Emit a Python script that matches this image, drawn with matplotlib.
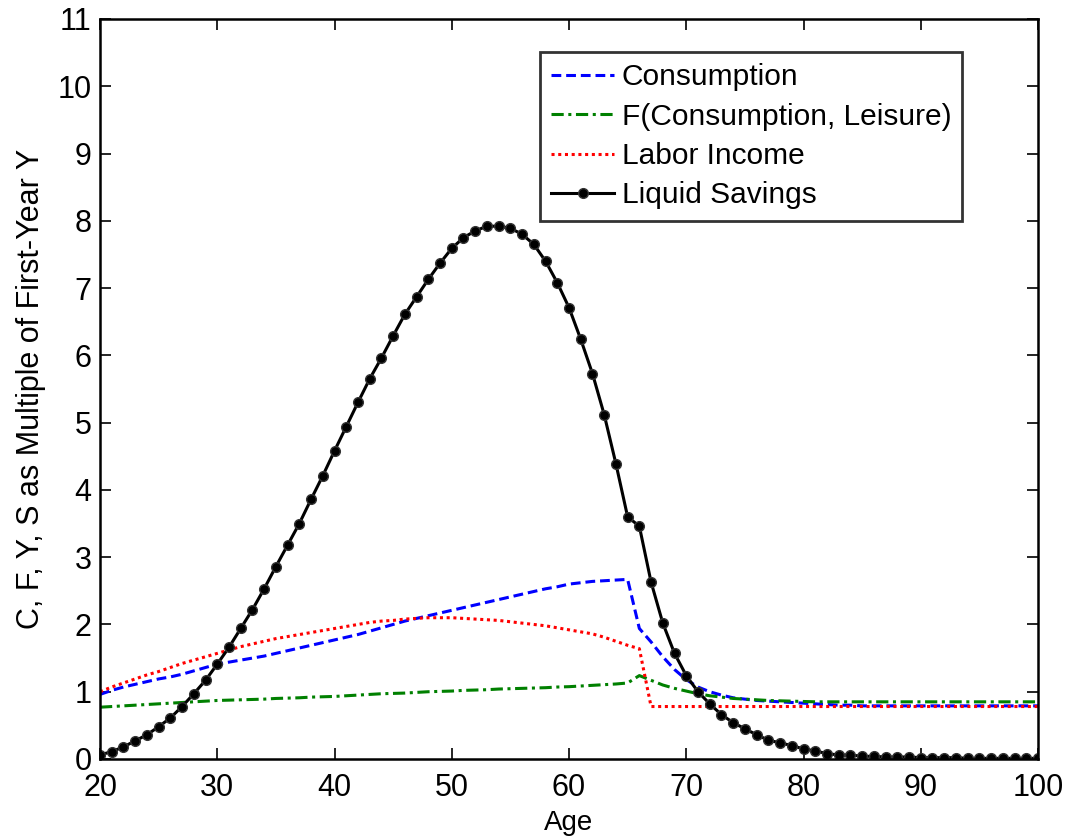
import matplotlib
matplotlib.use("Agg")
import matplotlib.pyplot as plt
import numpy as np

plt.rcParams['font.family'] = ['Liberation Sans', 'DejaVu Sans']

ages = list(range(20, 101))

consumption = [0.96, 1.02, 1.07, 1.11, 1.15, 1.19, 1.22, 1.26, 1.31, 1.36,
               1.41, 1.44, 1.47, 1.50, 1.53, 1.57, 1.61, 1.65, 1.69, 1.73,
               1.77, 1.81, 1.85, 1.90, 1.95, 2.00, 2.05, 2.09, 2.13, 2.17,
               2.21, 2.25, 2.29, 2.33, 2.37, 2.41, 2.45, 2.49, 2.53, 2.56,
               2.60, 2.62, 2.64, 2.65, 2.66, 2.67, 1.94, 1.74, 1.52, 1.33,
               1.18, 1.07, 1.00, 0.95, 0.91, 0.89, 0.87, 0.86, 0.85, 0.84,
               0.83, 0.82, 0.81, 0.80, 0.80, 0.79, 0.79, 0.79, 0.79, 0.79,
               0.79, 0.79, 0.79, 0.79, 0.79, 0.79, 0.79, 0.79, 0.79, 0.79,
               0.79]

f_cons_leisure = [0.77, 0.78, 0.79, 0.80, 0.81, 0.82, 0.83, 0.84, 0.85, 0.86,
                  0.87, 0.875, 0.88, 0.885, 0.89, 0.90, 0.905, 0.91, 0.92, 0.925,
                  0.93, 0.94, 0.95, 0.96, 0.97, 0.975, 0.98, 0.99, 1.00, 1.005,
                  1.01, 1.02, 1.025, 1.03, 1.04, 1.045, 1.05, 1.055, 1.06, 1.07,
                  1.075, 1.085, 1.095, 1.105, 1.115, 1.13, 1.24, 1.17, 1.10, 1.05,
                  1.01, 0.97, 0.94, 0.92, 0.90, 0.89, 0.88, 0.87, 0.865, 0.86,
                  0.855, 0.85, 0.85, 0.85, 0.85, 0.85, 0.85, 0.85, 0.85, 0.85,
                  0.85, 0.85, 0.85, 0.85, 0.85, 0.85, 0.85, 0.85, 0.85, 0.85,
                  0.85]

labor_income = [1.00, 1.07, 1.13, 1.19, 1.25, 1.30, 1.36, 1.42, 1.47, 1.52,
                1.57, 1.62, 1.67, 1.71, 1.75, 1.79, 1.82, 1.85, 1.88, 1.91,
                1.94, 1.97, 2.00, 2.03, 2.05, 2.06, 2.08, 2.09, 2.10, 2.10,
                2.10, 2.09, 2.08, 2.07, 2.06, 2.04, 2.02, 2.00, 1.98, 1.95,
                1.92, 1.89, 1.86, 1.81, 1.75, 1.69, 1.64, 0.78, 0.78, 0.78,
                0.78, 0.78, 0.78, 0.78, 0.78, 0.78, 0.78, 0.78, 0.78, 0.78,
                0.78, 0.78, 0.78, 0.78, 0.78, 0.78, 0.78, 0.78, 0.78, 0.78,
                0.78, 0.78, 0.78, 0.78, 0.78, 0.78, 0.78, 0.78, 0.78, 0.78,
                0.78]

liquid_savings = [0.06, 0.11, 0.18, 0.27, 0.36, 0.48, 0.61, 0.78, 0.97, 1.17,
                  1.41, 1.66, 1.94, 2.22, 2.53, 2.86, 3.18, 3.50, 3.86, 4.21,
                  4.58, 4.94, 5.30, 5.65, 5.96, 6.29, 6.61, 6.87, 7.13, 7.37,
                  7.59, 7.75, 7.85, 7.92, 7.92, 7.89, 7.80, 7.65, 7.40, 7.08,
                  6.71, 6.24, 5.73, 5.12, 4.39, 3.60, 3.46, 2.63, 2.02, 1.57,
                  1.24, 1.00, 0.82, 0.66, 0.54, 0.45, 0.36, 0.28, 0.24, 0.20,
                  0.15, 0.12, 0.08, 0.06, 0.06, 0.04, 0.04, 0.03, 0.03, 0.03,
                  0.02, 0.02, 0.02, 0.02, 0.01, 0.01, 0.01, 0.01, 0.01, 0.01,
                  0.01]

xticks = [20, 30, 40, 50, 60, 70, 80, 90, 100]
yticks = list(range(0, 12))

fig = plt.figure(figsize=(10.68, 8.40), dpi=100)
ax = fig.add_axes([100/1068, 81/840, 938/1068, 740/840])

ax.plot(ages, consumption, color='#0000ff', linestyle=(0, (3.2, 1.6)), lw=2.2,
        label='Consumption')
ax.plot(ages, f_cons_leisure, color='#008000', linestyle=(0, (4, 1.5, 1, 1.5)), lw=2.2,
        label='F(Consumption, Leisure)')
ax.plot(ages, labor_income, color='#ff0000', linestyle=(0, (1, 1.2)), lw=2.2,
        label='Labor Income')
ax.plot(ages, liquid_savings, color='black', linestyle='-', lw=2.2, marker='o',
        markersize=7, markerfacecolor='black', markeredgecolor='#333333',
        label='Liquid Savings')

ax.set_xlim(20, 100)
ax.set_ylim(0, 11)
ax.set_xticks(xticks)
ax.set_yticks(yticks)
ax.tick_params(direction='in', length=8, width=1.2, top=True, right=True,
               labelsize=22)
ax.tick_params(axis='x', pad=10)
ax.tick_params(axis='y', pad=6)
for s in ax.spines.values():
    s.set_linewidth(1.8)

ax.set_xlabel('Age', fontsize=20, labelpad=5)
ax.set_ylabel('C, F, Y, S as Multiple of First-Year Y', fontsize=22, labelpad=8)

leg = ax.legend(loc='upper left', bbox_to_anchor=(540/1068, 1-52/840),
                bbox_transform=fig.transFigure, fontsize=21.5, frameon=True,
                fancybox=False, edgecolor='black', handlelength=2.1,
                handletextpad=0.25, borderpad=0.38, labelspacing=0.38,
                borderaxespad=0)
leg.get_frame().set_linewidth(2.0)

fig.savefig('out.png', dpi=100)
